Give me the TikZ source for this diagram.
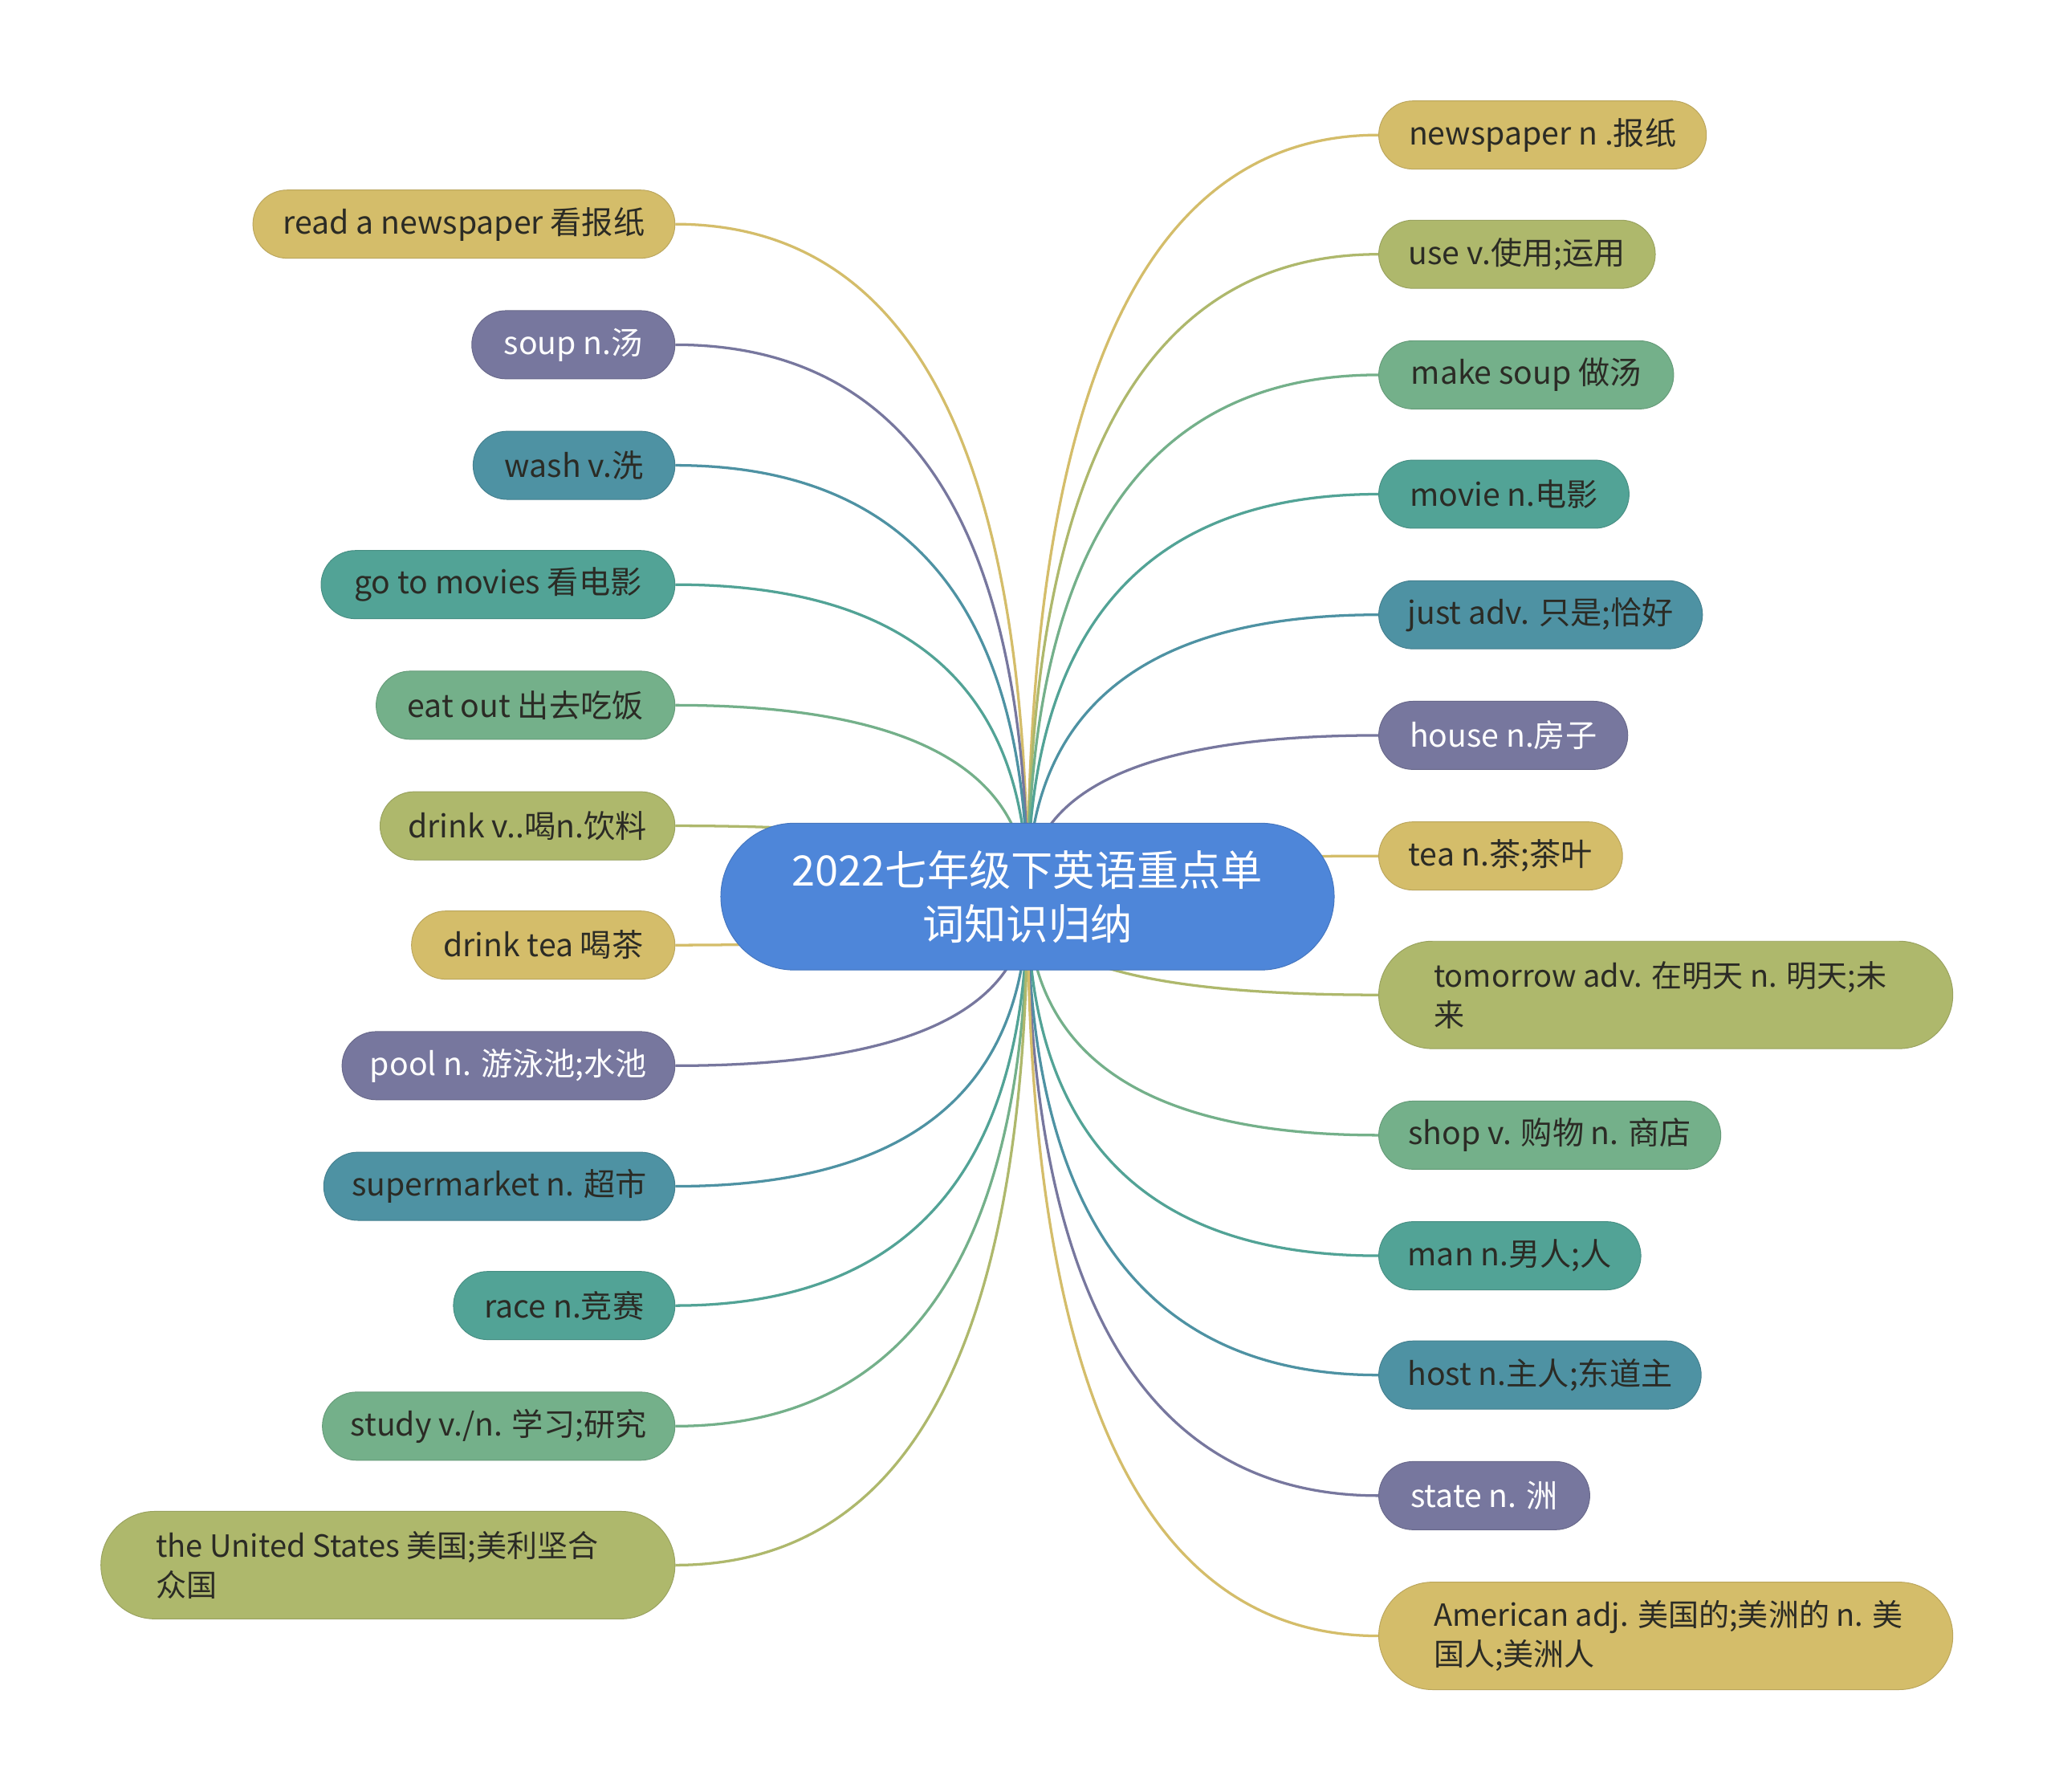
\documentclass[tikz,border=0pt]{standalone}
\usepackage{fontspec}
\setmainfont{Noto Sans CJK SC}
\usetikzlibrary{calc,backgrounds}
\definecolor{cY}{HTML}{D4BD6A}
\definecolor{cO}{HTML}{AEB86C}
\definecolor{cG}{HTML}{74B08A}
\definecolor{cT}{HTML}{52A396}
\definecolor{cB}{HTML}{4E92A3}
\definecolor{cP}{HTML}{77779E}
\definecolor{cRoot}{HTML}{4E86D9}
\definecolor{txt}{HTML}{2B2B25}
\tikzset{
  leaf/.style={rectangle, rounded corners=26pt, minimum height=52pt, inner sep=0pt,
    font=\fontsize{24}{30}\selectfont, text=txt, fill=#1, draw=#1!88!black, line width=0.6pt},
  wleaf/.style={leaf=#1, text=white},
  bigleaf/.style={rectangle, rounded corners=41pt, minimum height=82pt, inner xsep=42pt, inner ysep=0pt,
    align=left, font=\fontsize{23.3}{30}\selectfont, text=txt,
    fill=#1, draw=#1!88!black, line width=0.6pt},
  rootnode/.style={rectangle, rounded corners=56pt, minimum width=468pt, minimum height=112pt,
    inner sep=0pt, align=center, font=\fontsize{32}{41}\selectfont, text=white,
    fill=cRoot, draw=cRoot!88!black, line width=0.6pt},
  conn/.style={line width=2pt}
}
\newcommand\linkto[2]{\draw[conn, #2] (root.center) .. controls ($(root.center)!0.6667!(root.center|-#1)$) and ($(#1)!0.6667!(root.center|-#1)$) .. (#1);}
\newcommand\fline[1]{\makebox[354pt][l]{#1}}
\begin{document}
\begin{tikzpicture}[x=1pt,y=-1pt]
\useasboundingbox (0,0) rectangle (1568,1367);
\node[rootnode] (root) at (784,684) {2022七年级下英语重点单\\词知识归纳};
% right
\node[leaf=cY, minimum width=250pt] (r1) at (1177,103) {newspaper n .报纸};
\node[leaf=cO, minimum width=211pt] (r2) at (1157.5,194) {use v.使用;运用};
\node[leaf=cG, minimum width=225pt] (r3) at (1164.5,286) {make soup 做汤};
\node[leaf=cT, minimum width=191pt] (r4) at (1147.5,377) {movie n.电影};
\node[leaf=cB, minimum width=247pt] (r5) at (1175.5,469) {just adv. 只是;恰好};
\node[wleaf=cP, minimum width=190pt] (r6) at (1147,561) {house n.房子};
\node[leaf=cY, minimum width=186pt] (r7) at (1145,653) {tea n.茶;茶叶};
\node[bigleaf=cO] (r8) at (1271,759) {\fline{tomorrow adv. 在明天 n. 明天;未}\\来};
\node[leaf=cG, minimum width=261pt] (r9) at (1182.5,866) {shop v. 购物 n. 商店};
\node[leaf=cT, minimum width=200pt] (r10) at (1152,958) {man n.男人;人};
\node[leaf=cB, minimum width=246pt] (r11) at (1175,1049) {host n.主人;东道主};
\node[wleaf=cP, minimum width=161pt] (r12) at (1132.5,1141) {state n. 洲};
\node[bigleaf=cY] (r13) at (1271,1248) {\fline{American adj. 美国的;美洲的 n. 美}\\国人;美洲人};
% left
\node[leaf=cY, minimum width=322pt] (l1) at (354,171) {read a newspaper 看报纸};
\node[wleaf=cP, minimum width=155pt] (l2) at (437.5,263) {soup n.汤};
\node[leaf=cB, minimum width=154pt] (l3) at (438,355) {wash v.洗};
\node[leaf=cT, minimum width=270pt] (l4) at (380,446) {go to movies 看电影};
\node[leaf=cG, minimum width=228pt] (l5) at (401,538) {eat out 出去吃饭};
\node[leaf=cO, minimum width=225pt] (l6) at (402.5,630) {drink v..喝n.饮料};
\node[leaf=cY, minimum width=201pt] (l7) at (414.5,721) {drink tea 喝茶};
\node[wleaf=cP, minimum width=254pt] (l8) at (388,813) {pool n. 游泳池;水池};
\node[leaf=cB, minimum width=268pt] (l9) at (381,905) {supermarket n. 超市};
\node[leaf=cT, minimum width=169pt] (l10) at (430.5,996) {race n.竞赛};
\node[leaf=cG, minimum width=269pt] (l11) at (380.5,1088) {study v./n. 学习;研究};
\node[bigleaf=cO] (l12) at (296,1194) {\fline{the United States 美国;美利坚合}\\众国};
\begin{scope}[on background layer]
\fill[white] (0,0) rectangle (1568,1367);
\linkto{r1.west}{cY}
\linkto{r2.west}{cO}
\linkto{r3.west}{cG}
\linkto{r4.west}{cT}
\linkto{r5.west}{cB}
\linkto{r6.west}{cP}
\linkto{r7.west}{cY}
\linkto{r8.west}{cO}
\linkto{r9.west}{cG}
\linkto{r10.west}{cT}
\linkto{r11.west}{cB}
\linkto{r12.west}{cP}
\linkto{r13.west}{cY}
\linkto{l1.east}{cY}
\linkto{l2.east}{cP}
\linkto{l3.east}{cB}
\linkto{l4.east}{cT}
\linkto{l5.east}{cG}
\linkto{l6.east}{cO}
\linkto{l7.east}{cY}
\linkto{l8.east}{cP}
\linkto{l9.east}{cB}
\linkto{l10.east}{cT}
\linkto{l11.east}{cG}
\linkto{l12.east}{cO}
\end{scope}
\end{tikzpicture}
\end{document}
